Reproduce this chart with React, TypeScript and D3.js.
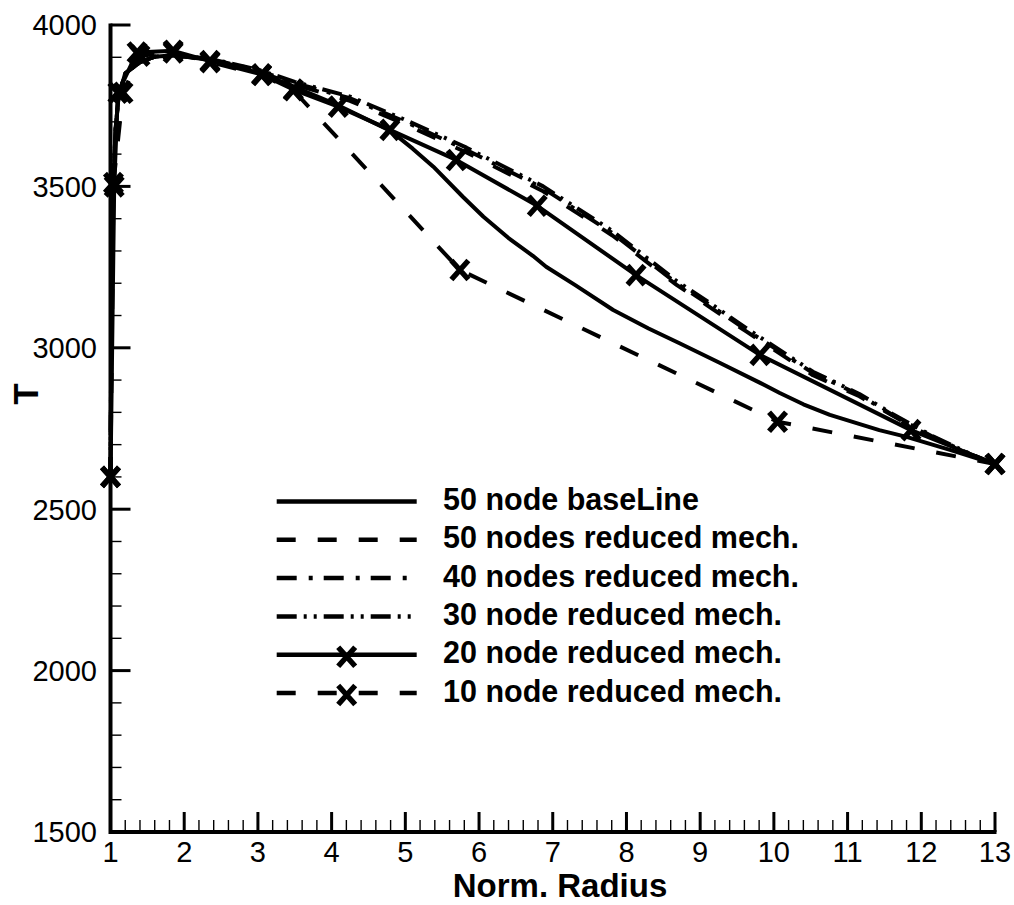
import React from 'react';
import * as d3 from 'd3';

// ---- data ----
const xTickValues = [1, 2, 3, 4, 5, 6, 7, 8, 9, 10, 11, 12, 13];
const yTickValues = [1500, 2000, 2500, 3000, 3500, 4000];

const baseX = [1.0, 1.01, 1.02, 1.04, 1.07, 1.11, 1.2, 1.4, 1.6, 1.85, 2.35, 3.0, 3.5, 4.1, 4.8, 5.1, 5.38, 5.78, 6.06, 6.4, 6.73, 6.91, 7.3, 7.82, 8.3, 8.72, 9.27, 9.8, 10.08, 10.4, 10.76, 11.43, 11.8, 12.4, 13.0];
const baseT = [2600, 3000, 3300, 3520, 3680, 3780, 3850, 3885, 3902, 3906, 3892, 3853, 3808, 3750, 3672, 3617, 3561, 3468, 3406, 3340, 3285, 3251, 3195, 3117, 3060, 3014, 2953, 2893, 2860, 2825, 2792, 2745, 2724, 2683, 2640];

const clusterX = [1.0, 1.01, 1.02, 1.04, 1.07, 1.11, 1.2, 1.4, 1.6, 1.85, 2.35, 3.0, 3.5, 4.25, 5.0, 5.83, 6.87, 7.81, 8.68, 9.17, 9.63, 10.53, 11.16, 11.61, 12.15, 12.69, 13.0];
const red50T = [2600, 3000, 3300, 3520, 3680, 3780, 3850, 3885, 3902, 3906, 3893, 3857, 3815, 3765, 3692, 3605, 3485, 3348, 3195, 3120, 3050, 2915, 2850, 2790, 2722, 2666, 2640];
const red40T = [2600, 3000, 3300, 3520, 3680, 3780, 3850, 3885, 3902, 3906, 3895, 3860, 3820, 3773, 3700, 3613, 3494, 3355, 3200, 3127, 3055, 2922, 2854, 2792, 2725, 2668, 2640];
const red30T = [2600, 3000, 3300, 3520, 3680, 3780, 3850, 3885, 3902, 3906, 3896, 3862, 3824, 3778, 3706, 3620, 3500, 3362, 3207, 3133, 3060, 2926, 2857, 2795, 2727, 2669, 2640];

const red20X = [1.0, 1.05, 1.10, 1.36, 1.85, 2.35, 3.05, 3.48, 4.09, 4.79, 5.69, 6.79, 8.13, 9.81, 11.86, 13.0];
const red20T = [2600, 3500, 3790, 3915, 3920, 3888, 3847, 3800, 3747, 3675, 3582, 3440, 3225, 2978, 2745, 2640];

const red10X = [1.0, 1.04, 1.17, 1.40, 1.85, 2.35, 3.05, 3.48, 5.74, 10.05, 13.0];
const red10T = [2600, 3510, 3790, 3905, 3915, 3885, 3845, 3798, 3241, 2771, 2640];

const legendLabels = [
  '50 node baseLine',
  '50 nodes reduced mech.',
  '40 nodes reduced mech.',
  '30 node reduced mech.',
  '20 node reduced mech.',
  '10 node reduced mech.',
];

const xTitle = 'Norm. Radius';
const yTitle = 'T';

type Series = { xs: number[]; ts: number[]; dash: string; legendDash: string; marker: boolean };

const series: Series[] = [
  { xs: baseX, ts: baseT, dash: 'none', legendDash: 'none', marker: false },
  { xs: clusterX, ts: red50T, dash: '20 22', legendDash: '19 22', marker: false },
  { xs: clusterX, ts: red40T, dash: '20 11 4 10', legendDash: '20 12 4 11', marker: false },
  { xs: clusterX, ts: red30T, dash: '20 7 3 7 3 7', legendDash: '20 7 3 7 3 7', marker: false },
  { xs: red20X, ts: red20T, dash: 'none', legendDash: 'none', marker: true },
  { xs: red10X, ts: red10T, dash: '20 22', legendDash: '19 22', marker: true },
];

const FONT = '"Liberation Sans", Arial, Helvetica, sans-serif';
const LW = 4;

function XMark({ cx, cy }: { cx: number; cy: number }) {
  return (
    <path
      d={`M${cx - 8.5},${cy - 9.5}L${cx + 8.5},${cy + 9.5}M${cx + 8.5},${cy - 9.5}L${cx - 8.5},${cy + 9.5}`}
      stroke="#000"
      strokeWidth={5.4}
      fill="none"
    />
  );
}

export default function App() {
  const x = d3.scaleLinear().domain([1, 13]).range([110.5, 995]);
  const y = d3.scaleLinear().domain([1500, 4000]).range([832, 25]);
  const line = d3
    .line<[number, number]>()
    .x((d) => x(d[0]))
    .y((d) => y(d[1]));

  const xMinor = d3.range(1, 13.0001, 0.2).filter((v) => Math.abs(v - Math.round(v)) > 1e-6);
  const yMinor = d3.range(1500, 4000.1, 100).filter((v) => v % 500 !== 0);

  const legX0 = 276.7;
  const legX1 = 416.7;
  const legText = 443;
  const legBase0 = 510;
  const legStep = 38.3;

  return (
    <svg
      width={1014}
      height={905}
      style={{ position: 'absolute', left: 0, top: 0, background: '#fff' }}
      fontFamily={FONT}
    >
      <rect x={0} y={0} width={1014} height={905} fill="#fff" />
      {/* data lines */}
      {series.map((s, i) => (
        <path
          key={'l' + i}
          d={line(s.xs.map((v, j) => [v, s.ts[j]] as [number, number])) || ''}
          fill="none"
          stroke="#000"
          strokeWidth={LW}
          strokeDasharray={s.dash === 'none' ? undefined : s.dash}
          strokeLinejoin="round"
        />
      ))}
      {series.map((s, i) =>
        s.marker
          ? s.xs.map((v, j) => <XMark key={'m' + i + '-' + j} cx={x(v)} cy={y(s.ts[j])} />)
          : null
      )}

      {/* axes */}
      {xMinor.map((v, i) => (
        <line key={'xm' + i} x1={x(v)} x2={x(v)} y1={y(1500)} y2={y(1500) - 12} stroke="#000" strokeWidth={1.4} />
      ))}
      {xTickValues.map((v) => (
        <line key={'xM' + v} x1={x(v)} x2={x(v)} y1={y(1500)} y2={y(1500) - 20} stroke="#000" strokeWidth={3} />
      ))}
      {yMinor.map((v, i) => (
        <line key={'ym' + i} x1={x(1)} x2={x(1) + 11} y1={y(v)} y2={y(v)} stroke="#000" strokeWidth={1.4} />
      ))}
      {yTickValues.map((v) => (
        <line key={'yM' + v} x1={x(1)} x2={x(1) + 20} y1={y(v)} y2={y(v)} stroke="#000" strokeWidth={3} />
      ))}
      <line x1={x(1)} x2={x(13) + 1.5} y1={y(1500)} y2={y(1500)} stroke="#000" strokeWidth={4} />
      <line x1={x(1)} x2={x(1)} y1={y(1500) + 2} y2={y(4000) - 1.5} stroke="#000" strokeWidth={4} />

      {xTickValues.map((v) => (
        <text key={'xt' + v} x={x(v)} y={862} textAnchor="middle" fontSize={29}>
          {v}
        </text>
      ))}
      {yTickValues.map((v) => (
        <text key={'yt' + v} x={97} y={y(v)} dy="0.36em" textAnchor="end" fontSize={29}>
          {v}
        </text>
      ))}
      <text x={560} y={897} textAnchor="middle" fontSize={33} fontWeight="bold">
        {xTitle}
      </text>
      <text transform="translate(38,394) rotate(-90)" textAnchor="middle" fontSize={35} fontWeight="bold">
        {yTitle}
      </text>

      {/* legend */}
      {series.map((s, i) => {
        const by = legBase0 + i * legStep;
        const ly = by - 8.5;
        return (
          <g key={'lg' + i}>
            <line
              x1={legX0}
              x2={legX1}
              y1={ly}
              y2={ly}
              stroke="#000"
              strokeWidth={4.5}
              strokeDasharray={s.legendDash === 'none' ? undefined : s.legendDash}
            />
            {s.marker ? <XMark cx={(legX0 + legX1) / 2} cy={ly + 2} /> : null}
            <text x={legText} y={by} fontSize={30.5} fontWeight="bold">
              {legendLabels[i]}
            </text>
          </g>
        );
      })}
    </svg>
  );
}
